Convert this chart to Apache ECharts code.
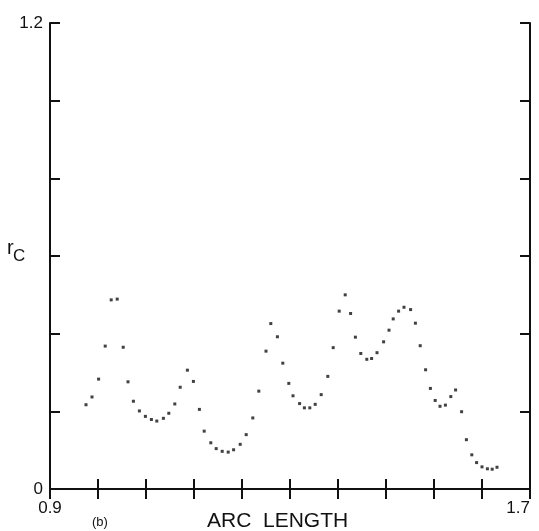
<!DOCTYPE html>
<html><head><meta charset="utf-8">
<script src="https://cdn.jsdelivr.net/npm/echarts@6/dist/echarts.min.js"></script>
<style>html,body{margin:0;padding:0;background:#fff}#c{width:539px;height:531px}</style>
</head><body><div id="c"></div>
<script>
// Data
const arcLength = [0.960,0.970,0.981,0.992,1.002,1.012,1.022,1.030,1.039,1.049,1.059,1.069,1.078,1.089,1.098,1.108,1.117,1.129,1.139,1.149,1.157,1.168,1.177,1.187,1.197,1.206,1.217,1.227,1.238,1.248,1.260,1.268,1.279,1.288,1.298,1.305,1.316,1.324,1.333,1.342,1.352,1.363,1.372,1.382,1.392,1.401,1.409,1.418,1.428,1.436,1.445,1.456,1.465,1.472,1.481,1.490,1.501,1.509,1.517,1.526,1.534,1.542,1.550,1.559,1.568,1.576,1.586,1.594,1.603,1.611,1.620,1.629,1.637,1.645];
const rC = [0.217,0.237,0.283,0.368,0.487,0.489,0.365,0.276,0.226,0.201,0.187,0.179,0.175,0.182,0.195,0.219,0.262,0.306,0.277,0.205,0.149,0.119,0.104,0.097,0.095,0.101,0.115,0.140,0.183,0.252,0.355,0.426,0.392,0.324,0.272,0.240,0.220,0.209,0.209,0.218,0.243,0.290,0.364,0.458,0.500,0.452,0.391,0.349,0.334,0.336,0.351,0.379,0.409,0.438,0.458,0.468,0.462,0.427,0.369,0.307,0.259,0.228,0.213,0.216,0.238,0.255,0.199,0.127,0.088,0.068,0.057,0.052,0.051,0.056];
const xMin = 0.9, xMax = 1.7, xStep = 0.08;
const yMin = 0, yMax = 1.2, yStep = 0.2;
const xTickLabels = ['0.9', '1.7'];
const yTickLabels = ['0', '1.2'];
const xTitle = 'ARC  LENGTH';
const panelTag = '(b)';

const points = arcLength.map((x, i) => [x, rC[i]]);
const font = 'Liberation Sans, Arial, sans-serif';
const lineStyle = { color: '#111', width: 2 };
const tick = { show: true, inside: true, length: 10, lineStyle: { color: '#111', width: 2 } };

const chart = echarts.init(document.getElementById('c'), null, { renderer: 'canvas' });
const near = (a, b) => Math.abs(a - b) < 1e-6;
chart.setOption({
  backgroundColor: '#fff',
  animation: false,
  grid: { left: 50, right: 9, top: 23, bottom: 42 },
  xAxis: [
    { type: 'value', min: xMin, max: xMax, interval: xStep, position: 'bottom',
      axisLine: { show: true, lineStyle }, axisTick: tick, splitLine: { show: false },
      axisLabel: { show: true, margin: 11, fontSize: 17, color: '#111', fontFamily: font,
        showMinLabel: true, showMaxLabel: true, alignMinLabel: 'center', alignMaxLabel: 'right',
        formatter: v => near(v, xMin) ? xTickLabels[0] : (near(v, xMax) ? xTickLabels[1] : '') } },
    { type: 'value', min: xMin, max: xMax, interval: xStep, position: 'top',
      axisLine: { show: true, lineStyle }, axisTick: tick, splitLine: { show: false },
      axisLabel: { show: false } }
  ],
  yAxis: [
    { type: 'value', min: yMin, max: yMax, interval: yStep, position: 'left',
      axisLine: { show: true, lineStyle }, axisTick: tick, splitLine: { show: false },
      axisLabel: { show: true, margin: 7, fontSize: 17, color: '#111', fontFamily: font,
        formatter: v => near(v, yMin) ? yTickLabels[0] : (near(v, yMax) ? yTickLabels[1] : '') } },
    { type: 'value', min: yMin, max: yMax, interval: yStep, position: 'right',
      axisLine: { show: true, lineStyle }, axisTick: tick, splitLine: { show: false },
      axisLabel: { show: false } }
  ],
  series: [{
    type: 'scatter', data: points, symbol: 'rect', symbolSize: 3,
    itemStyle: { color: '#111' }, xAxisIndex: 0, yAxisIndex: 0
  }],
  graphic: [
    { type: 'text', left: 207, top: 511, style: { text: xTitle, font: '21px ' + font, fill: '#111' } },
    { type: 'text', left: 92, top: 516, style: { text: panelTag, font: '13px ' + font, fill: '#111' } },
    { type: 'text', left: 7, top: 238, style: { text: 'r', font: '20px ' + font, fill: '#111' } },
    { type: 'text', left: 13, top: 248, style: { text: 'C', font: '17px ' + font, fill: '#111' } }
  ]
});
</script></body></html>
